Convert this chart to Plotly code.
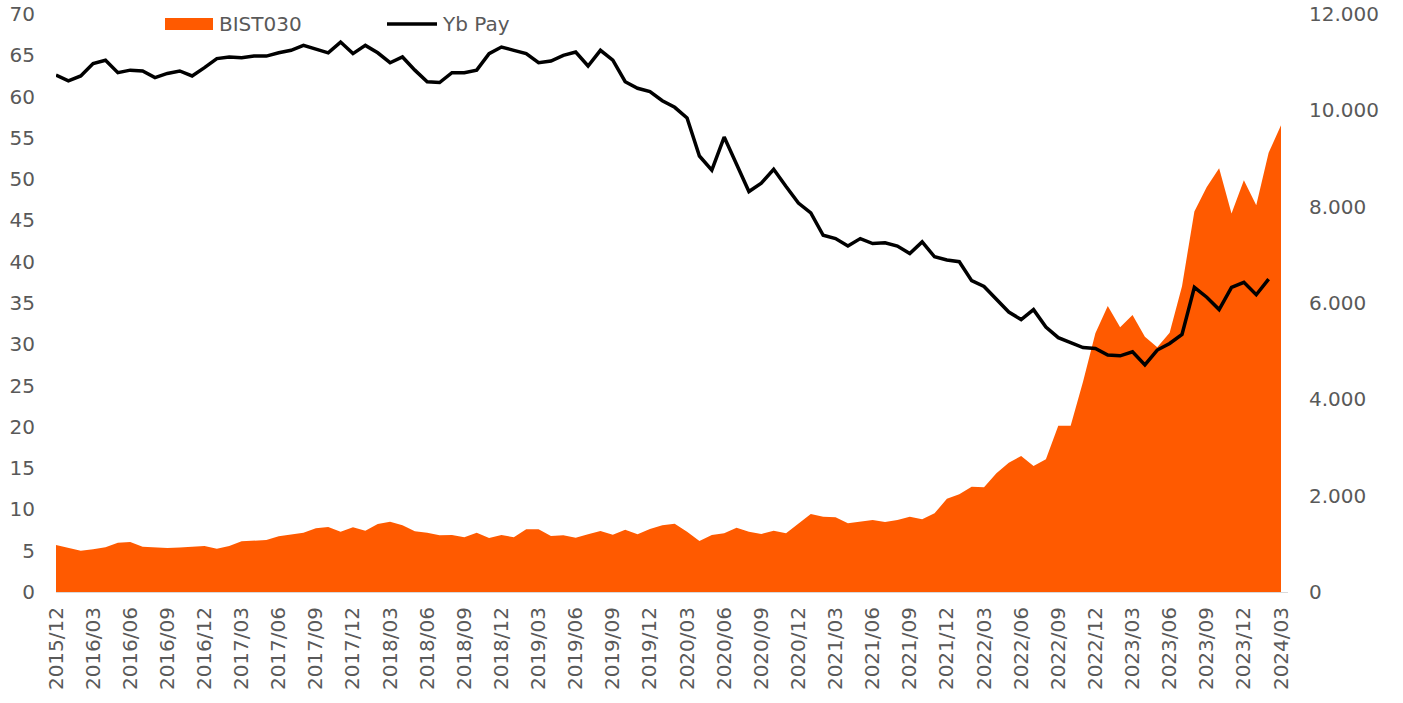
import plotly.graph_objects as go

# Monthly categories 2015/12 .. 2024/03
months = []
y, m = 2015, 12
for _ in range(100):
    months.append(f"{y}/{m:02d}")
    m += 1
    if m > 12:
        m = 1
        y += 1

# BIST030 index level (right axis)
bist030 = [976, 915, 858, 890, 927, 1024, 1038, 941, 930, 913,
           925, 940, 955, 900, 955, 1052, 1066, 1080, 1156, 1190,
           1232, 1322, 1349, 1252, 1342, 1273, 1412, 1460, 1384, 1260,
           1232, 1176, 1183, 1135, 1232, 1121, 1183, 1135, 1301, 1301,
           1163, 1176, 1128, 1197, 1266, 1190, 1294, 1197, 1308, 1384,
           1419, 1253, 1059, 1183, 1218, 1336, 1253, 1204, 1273, 1218,
           1425, 1619, 1564, 1550, 1425, 1453, 1495, 1453, 1495, 1564,
           1509, 1633, 1937, 2028, 2187, 2173, 2464, 2685, 2823, 2616,
           2754, 3453, 3453, 4366, 5370, 5937, 5495, 5750, 5301, 5080,
           5384, 6350, 7900, 8410, 8800, 7860, 8550, 8030, 9120, 9690]

# Yb Pay (foreign share, %, left axis) - available through 2024/02
yb_pay = [62.6, 61.9, 62.5, 64.0, 64.4, 62.9, 63.2, 63.1, 62.3, 62.8,
          63.1, 62.5, 63.5, 64.6, 64.8, 64.7, 64.9, 64.9, 65.3, 65.6,
          66.2, 65.8, 65.3, 66.6, 65.2, 66.2, 65.3, 64.1, 64.8, 63.2,
          61.8, 61.7, 62.9, 62.9, 63.2, 65.2, 66.0, 65.6, 65.2, 64.1,
          64.3, 65.0, 65.4, 63.7, 65.6, 64.4, 61.8, 61.0, 60.6, 59.5,
          58.7, 57.4, 52.8, 51.1, 55.1, 51.8, 48.5, 49.5, 51.2, 49.1,
          47.1, 45.9, 43.2, 42.8, 41.9, 42.8, 42.2, 42.3, 41.9, 41.0,
          42.4, 40.6, 40.2, 40.0, 37.7, 37.0, 35.4, 33.9, 33.0, 34.2,
          32.1, 30.8, 30.2, 29.6, 29.5, 28.7, 28.6, 29.1, 27.5, 29.3,
          30.1, 31.2, 36.9, 35.7, 34.2, 36.9, 37.5, 36.0, 37.9]

left_ticks = list(range(0, 71, 5))
right_ticks = list(range(0, 12001, 2000))
right_ticktext = ["0", "2.000", "4.000", "6.000", "8.000", "10.000", "12.000"]
x_ticks = months[::3]

ORANGE = "#FF5A00"
TEXT = "#595959"
FONT = "DejaVu Sans"
FS = 20

fig = go.Figure()
fig.add_trace(go.Scatter(
    x=months, y=bist030, name="BIST030", mode="lines",
    line=dict(width=0, color=ORANGE), fill="tozeroy", fillcolor=ORANGE,
    xaxis="x", yaxis="y", showlegend=False, hoverinfo="x+y"))
fig.add_trace(go.Scatter(
    x=months[:len(yb_pay)], y=yb_pay, name="Yb Pay", mode="lines",
    line=dict(width=3.5, color="black"),
    xaxis="x", yaxis="y2", showlegend=False))

W, H = 1403, 703
# target plot box in page pixels: x 56..1288, y 14..592
L, T = 56, 14
R = W - 1288
B = H - 592
pw = W - L - R
ph = H - T - B
last_px = 1281
step = (last_px - L) / 99.0
xmax = 99 + (W - R - last_px) / step

def px(xp):
    return (xp - L) / pw

def py(yp):
    return (H - B - yp) / ph

fig.update_layout(
    width=W, height=H,
    margin=dict(l=L, r=R, t=T, b=B, autoexpand=False),
    plot_bgcolor="white", paper_bgcolor="white",
    font=dict(family=FONT, size=FS, color=TEXT),
    xaxis=dict(type="category", range=[0, xmax], tickmode="array",
               tickvals=x_ticks, ticktext=x_ticks, tickangle=-90,
               showgrid=False, zeroline=False, showline=True,
               linecolor="#d9d9d9", linewidth=1, ticks="", automargin=False,
               ticklabelstandoff=6, tickfont=dict(size=FS, color=TEXT)),
    yaxis=dict(range=[0, 12000], side="right", tickmode="array",
               tickvals=right_ticks, ticktext=right_ticktext,
               showgrid=False, zeroline=False, ticks="", automargin=False,
               ticklabelstandoff=20, tickfont=dict(size=FS, color=TEXT)),
    yaxis2=dict(range=[0, 70], side="left", overlaying="y",
                tickmode="array", tickvals=left_ticks, automargin=False,
                showgrid=False, zeroline=False, ticks="",
                ticklabelstandoff=20, tickfont=dict(size=FS, color=TEXT)),
    shapes=[
        dict(type="rect", xref="paper", yref="paper",
             x0=px(165), x1=px(213), y0=py(30), y1=py(18),
             fillcolor=ORANGE, line=dict(width=0)),
        dict(type="line", xref="paper", yref="paper",
             x0=px(387), x1=px(437), y0=py(24), y1=py(24),
             line=dict(color="black", width=3.5)),
    ],
    annotations=[
        dict(text="BIST030", xref="paper", yref="paper", x=px(217), y=py(24),
             xanchor="left", yanchor="middle", showarrow=False,
             font=dict(size=FS, color=TEXT, family=FONT)),
        dict(text="Yb Pay", xref="paper", yref="paper", x=px(440), y=py(24),
             xanchor="left", yanchor="middle", showarrow=False,
             font=dict(size=FS, color=TEXT, family=FONT)),
    ],
)

fig.write_html("out.html",
               config={"displayModeBar": False},
               post_script="document.body.style.margin='0';"
                           "document.body.style.overflow='hidden';")
